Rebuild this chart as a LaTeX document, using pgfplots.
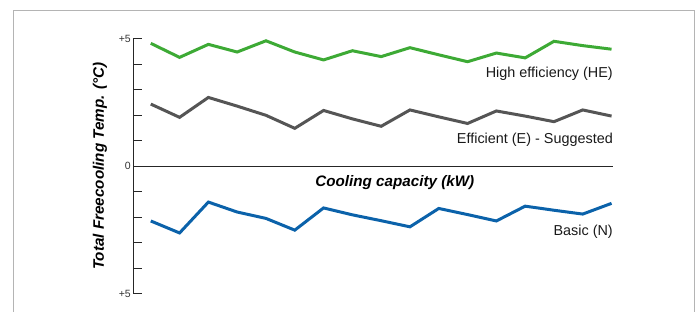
\documentclass[border=0pt]{standalone}
\usepackage{fontspec}
\setmainfont{Liberation Sans}
\usepackage{pgfplots}
\usepackage{pgfplotstable}
\pgfplotsset{compat=1.18}
\definecolor{heg}{HTML}{3DAA35}
\definecolor{eg}{HTML}{555555}
\definecolor{nb}{HTML}{0B62AA}
\definecolor{framec}{HTML}{B4B4B4}
\pgfplotstableread{
x he e n
0 4.81 2.43 -2.15
1 4.26 1.91 -2.62
2 4.77 2.69 -1.41
3 4.47 2.35 -1.80
4 4.91 1.99 -2.05
5 4.47 1.48 -2.51
6 4.16 2.18 -1.64
7 4.52 1.85 -1.91
8 4.29 1.56 -2.14
9 4.64 2.20 -2.38
10 4.36 1.93 -1.66
11 4.09 1.67 -1.90
12 4.43 2.16 -2.15
13 4.24 1.96 -1.57
14 4.89 1.74 -1.73
15 4.72 2.20 -1.88
16 4.58 1.96 -1.46
}\datatab
\begin{document}
\begin{tikzpicture}[x=1pt,y=1pt]
\useasboundingbox (0,0) rectangle (697,312);
\draw[color=framec, line width=1pt] (13,-5) rectangle (694,301);
\begin{axis}[
  at={(133.5pt,18.3pt)}, anchor=south west,
  scale only axis, width=479.5pt, height=255.2pt,
  xmin=-0.6, xmax=16.05, ymin=-5, ymax=5,
  axis y line=left, axis x line=middle,
  axis line style={-, line width=0.9pt, color=black!85},
  xtick=\empty,
  ytick={-5,-4,-3,-2,-1,0,1,2,3,4,5},
  yticklabels={{+5},{},{},{},{},{0},{},{},{},{},{+5}},
  tick align=inside, major tick length=8pt,
  tick style={line width=0.8pt, color=black!85},
  yticklabel style={font=\fontsize{10.5}{12}\selectfont, color=black!80, inner sep=2.5pt},
  /pgf/number format/assume math mode=true,
  clip=false,
  ylabel={Total Freecooling Temp. (°C)},
  ylabel style={at={(axis description cs:-0.07,0.5)}, anchor=center, font=\fontsize{15.2}{18}\selectfont\bfseries\itshape},
  xlabel={Cooling capacity (kW)},
  xlabel style={at={(axis description cs:0.545,0.437)}, anchor=center, font=\fontsize{15.2}{18}\selectfont\bfseries\itshape},
]
\addplot[heg, line width=3pt] table[x=x,y=he] {\datatab};
\addplot[eg, line width=3pt] table[x=x,y=e] {\datatab};
\addplot[nb, line width=3pt] table[x=x,y=n] {\datatab};
\node[anchor=east, font=\fontsize{14.4}{17}\selectfont, inner sep=0pt, color=black!90] at (axis cs:16.05,3.61) {High efficiency (HE)};
\node[anchor=east, font=\fontsize{14.4}{17}\selectfont, inner sep=0pt, color=black!90] at (axis cs:16.05,1.02) {Efficient (E) - Suggested};
\node[anchor=east, font=\fontsize{14.4}{17}\selectfont, inner sep=0pt, color=black!90] at (axis cs:16.05,-2.58) {Basic (N)};
\end{axis}
\end{tikzpicture}
\end{document}
